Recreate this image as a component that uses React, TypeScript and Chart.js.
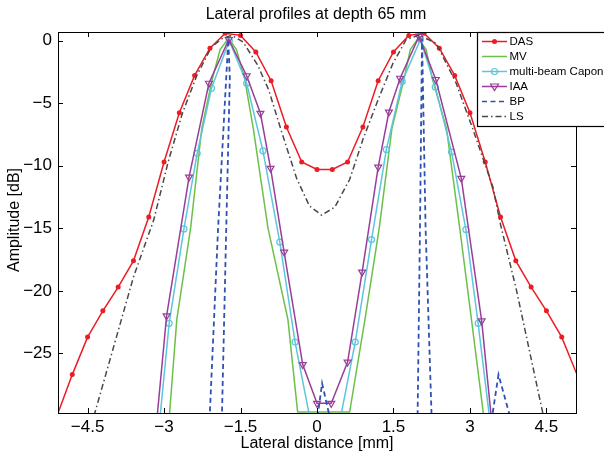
import React, { useEffect, useRef } from 'react';
import { Chart, registerables } from 'chart.js';

Chart.register(...registerables);

const FONT = '"Liberation Sans", Arial, Helvetica, sans-serif';

const X_MIN = -5.08;
const X_MAX = 5.08;
const Y_MIN = -29.77;
const Y_MAX = 0.7;

const xTicks = [-4.5, -3, -1.5, 0, 1.5, 3, 4.5];
const yTicks = [0, -5, -10, -15, -20, -25];

// DAS, sampled every 0.3 mm
const dasX = [-5.1, -4.8, -4.5, -4.2, -3.9, -3.6, -3.3, -3.0, -2.7, -2.4, -2.1, -1.8, -1.5, -1.2, -0.9, -0.6, -0.3, 0,
  0.3, 0.6, 0.9, 1.2, 1.5, 1.8, 2.1, 2.4, 2.7, 3.0, 3.3, 3.6, 3.9, 4.2, 4.5, 4.8, 5.1];
const dasY = [-30.0, -26.7, -23.7, -21.6, -19.7, -17.6, -14.1, -9.7, -5.76, -2.77, -0.6, 0.6, 0.43, -0.9, -3.2, -6.9, -9.7, -10.3,
  -10.3, -9.7, -6.9, -3.2, -0.9, 0.43, 0.6, -0.6, -2.77, -5.76, -9.7, -14.1, -17.6, -19.7, -21.6, -23.7, -26.7];

const mvX = [-2.95, -2.89, -2.75, -2.48, -2.26, -2.05, -1.9, -1.735, -1.58, -1.42, -1.25, -0.96, -0.57, -0.38,
  0.64, 0.94, 1.22, 1.47, 1.71, 1.83, 1.985, 2.14, 2.26, 2.54, 2.8, 3.03, 3.26, 3.35];
const mvY = [-33, -29.7, -22.3, -15, -7, -3, -0.7, 0.2, -0.7, -3, -7, -15, -22.3, -29.7,
  -29.7, -22.3, -15, -7, -3, -0.7, 0.2, -0.7, -3, -7, -15, -22.3, -29.7, -33];

const caponX = [-3.1, -2.9, -2.61, -2.35, -2.07, -1.72, -1.38, -1.06, -0.73, -0.43, -0.1,
  0.42, 0.75, 1.07, 1.36, 1.67, 2.03, 2.32, 2.64, 2.92, 3.16, 3.41];
const caponY = [-31, -22.6, -15.05, -9.0, -3.8, 0.0, -3.4, -8.8, -16.1, -24.1, -31,
  -31, -24.1, -15.9, -8.7, -3.25, 0.1, -3.7, -8.9, -15.1, -22.6, -31];

const iaaX = [-3.15, -2.95, -2.51, -2.12, -1.73, -1.38, -1.11, -0.91, -0.645, -0.28, 0.0,
  0.28, 0.6, 0.885, 1.2, 1.41, 1.63, 2.0, 2.33, 2.83, 3.23, 3.44];
const iaaY = [-30.7, -22.0, -10.9, -3.4, 0.1, -2.8, -5.8, -10.2, -16.9, -25.9, -29.0,
  -29.0, -25.7, -18.5, -10.1, -5.7, -3.0, 0.35, -3.1, -11.0, -22.4, -31];

const bpX = [-2.115, -1.94, -1.74, -1.71, -1.78, -1.87, -0.02, 0.1, 0.3,
  1.97, 2.02, 2.06, 2.13, 2.255, 3.4, 3.56, 3.85];
const bpY = [-31, -15, 0.1, -3, -15, -31, -31, -27.4, -31,
  -31, -15, 0.2, -15, -31, -31, -26.7, -31];

const lsX = [-4.47, -4.36, -3.6, -3.2, -2.92, -2.64, -2.36, -2.07, -1.85, -1.67, -1.45, -1.17, -0.95, -0.7, -0.4, -0.15,
  0.09, 0.35, 0.64, 0.9, 1.2, 1.49, 1.75, 2.0, 2.34, 2.73, 3.06, 3.45, 3.6, 3.91, 4.43, 4.5];
const lsY = [-31, -29.8, -18.9, -14.3, -9.7, -5.8, -2.8, -0.5, 0.2, 0.43, -0.1, -1.9, -3.9, -7.2, -11.0, -13.2,
  -13.95, -13.3, -11.1, -7.9, -4.7, -1.8, 0.1, 0.45, -0.2, -3.4, -7.1, -11.7, -14.7, -19.9, -29.8, -31];

const seriesNames = ['DAS', 'MV', 'multi-beam Capon', 'IAA', 'BP', 'LS'];
const seriesColors = ['#ec1c24', '#6cc04a', '#5cc6dc', '#9a3d9a', '#2f51b3', '#484848'];

const toPoints = (xs: number[], ys: number[]) => xs.map((x, i) => ({ x, y: ys[i] }));

const fmt = (v: number) => (v < 0 ? '\u2212' + Math.abs(v) : String(v));

// hide markers that fall outside the axes
const radiusIn = (r: number) => (c: any) => {
  const p = c.raw as { x: number; y: number } | undefined;
  if (!p) return r;
  return p.y < Y_MIN || p.x < X_MIN || p.x > X_MAX ? 0 : r;
};

function drawMarker(ctx: CanvasRenderingContext2D, kind: string, x: number, y: number, color: string) {
  ctx.save();
  ctx.strokeStyle = color;
  ctx.fillStyle = color;
  ctx.lineWidth = 1.2;
  ctx.setLineDash([]);
  if (kind === 'dot') {
    ctx.beginPath();
    ctx.arc(x, y, 2.5, 0, Math.PI * 2);
    ctx.fill();
  } else if (kind === 'circle') {
    ctx.beginPath();
    ctx.arc(x, y, 3, 0, Math.PI * 2);
    ctx.stroke();
  } else if (kind === 'tri') {
    ctx.beginPath();
    ctx.moveTo(x - 4, y - 2.5);
    ctx.lineTo(x + 4, y - 2.5);
    ctx.lineTo(x, y + 4);
    ctx.closePath();
    ctx.stroke();
  }
  ctx.restore();
}

const frame = {
  id: 'matlabFrame',
  afterDatasetsDraw(chart: any) {
    const { ctx, chartArea: a, scales } = chart;
    ctx.save();
    ctx.strokeStyle = '#000';
    ctx.lineWidth = 1;
    ctx.strokeRect(a.left + 0.5, a.top + 0.5, a.right - a.left, a.bottom - a.top);
    ctx.beginPath();
    xTicks.forEach((v) => {
      const px = Math.round(scales.x.getPixelForValue(v)) + 0.5;
      ctx.moveTo(px, a.bottom);
      ctx.lineTo(px, a.bottom - 5);
      ctx.moveTo(px, a.top);
      ctx.lineTo(px, a.top + 5);
    });
    yTicks.forEach((v) => {
      const py = Math.round(scales.y.getPixelForValue(v)) + 0.5;
      ctx.moveTo(a.left, py);
      ctx.lineTo(a.left + 5, py);
      ctx.moveTo(a.right, py);
      ctx.lineTo(a.right - 5, py);
    });
    ctx.stroke();
    ctx.restore();
  },
  afterDraw(chart: any) {
    const { ctx } = chart;
    ctx.save();
    ctx.fillStyle = '#000';
    ctx.font = `16px ${FONT}`;
    ctx.textAlign = 'center';
    ctx.textBaseline = 'alphabetic';
    ctx.fillText('Lateral profiles at depth 65 mm', 316, 19);
    ctx.fillText('Lateral distance [mm]', 317, 447.5);
    ctx.save();
    ctx.translate(19, 220);
    ctx.rotate(-Math.PI / 2);
    ctx.fillText('Amplitude [dB]', 0, 0);
    ctx.restore();

    // legend box
    ctx.fillStyle = '#fff';
    ctx.fillRect(477, 32, 140, 94);
    ctx.strokeStyle = '#000';
    ctx.lineWidth = 1.2;
    ctx.strokeRect(477.5, 32.5, 140, 94);
    const markers = ['dot', '', 'circle', 'tri', '', ''];
    const dashes = [[], [], [], [], [5, 3.5], [6, 3, 1.5, 3]];
    ctx.font = `11.5px ${FONT}`;
    ctx.textAlign = 'left';
    ctx.textBaseline = 'middle';
    seriesNames.forEach((name, i) => {
      const y = 41.5 + i * 15;
      ctx.strokeStyle = seriesColors[i];
      ctx.lineWidth = 1.5;
      ctx.setLineDash(dashes[i]);
      ctx.beginPath();
      ctx.moveTo(482, y);
      ctx.lineTo(507, y);
      ctx.stroke();
      ctx.setLineDash([]);
      if (markers[i]) drawMarker(ctx, markers[i], 494.5, y, seriesColors[i]);
      ctx.fillStyle = '#000';
      ctx.fillText(name, 509.5, y + 0.5);
    });
    ctx.restore();
  },
};

const App: React.FC = () => {
  const canvasRef = useRef<HTMLCanvasElement | null>(null);

  useEffect(() => {
    document.body.style.margin = '0';
    if (!canvasRef.current) return;
    Chart.defaults.font.family = FONT;
    const transparent = 'rgba(0,0,0,0)';
    const chart = new Chart(canvasRef.current, {
      type: 'scatter',
      data: {
        datasets: [
          {
            label: seriesNames[0],
            data: toPoints(dasX, dasY),
            showLine: true,
            borderColor: seriesColors[0],
            backgroundColor: seriesColors[0],
            borderWidth: 1.5,
            pointStyle: 'circle',
            pointRadius: radiusIn(2.5),
            pointBorderWidth: 0,
            pointBackgroundColor: seriesColors[0],
            order: 6,
          },
          {
            label: seriesNames[1],
            data: toPoints(mvX, mvY),
            showLine: true,
            borderColor: seriesColors[1],
            borderWidth: 1.5,
            pointRadius: 0,
            order: 5,
          },
          {
            label: seriesNames[2],
            data: toPoints(caponX, caponY),
            showLine: true,
            borderColor: seriesColors[2],
            borderWidth: 1.5,
            pointStyle: 'circle',
            pointRadius: radiusIn(3),
            pointBorderWidth: 1.2,
            pointBorderColor: seriesColors[2],
            pointBackgroundColor: transparent,
            order: 4,
          },
          {
            label: seriesNames[3],
            data: toPoints(iaaX, iaaY),
            showLine: true,
            borderColor: seriesColors[3],
            borderWidth: 1.5,
            pointStyle: 'triangle',
            rotation: 180,
            pointRadius: radiusIn(4),
            pointBorderWidth: 1.2,
            pointBorderColor: seriesColors[3],
            pointBackgroundColor: transparent,
            order: 3,
          },
          {
            label: seriesNames[4],
            data: toPoints(bpX, bpY),
            showLine: true,
            borderColor: seriesColors[4],
            borderWidth: 1.8,
            borderDash: [5, 3.5],
            pointRadius: 0,
            order: 2,
          },
          {
            label: seriesNames[5],
            data: toPoints(lsX, lsY),
            showLine: true,
            borderColor: seriesColors[5],
            borderWidth: 1.5,
            borderDash: [6, 3, 1.5, 3],
            pointRadius: 0,
            order: 1,
          },
        ],
      },
      options: {
        responsive: true,
        maintainAspectRatio: false,
        animation: false,
        events: [],
        layout: { padding: { top: 32, right: 28, left: 0, bottom: 0 } },
        plugins: {
          legend: { display: false },
          tooltip: { enabled: false },
          title: { display: false },
        },
        scales: {
          x: {
            type: 'linear',
            min: X_MIN,
            max: X_MAX,
            afterBuildTicks: (s: any) => {
              s.ticks = xTicks.map((value) => ({ value }));
            },
            afterFit: (s: any) => {
              s.height = 41;
            },
            grid: { display: false, drawTicks: false },
            border: { display: false },
            ticks: {
              autoSkip: false,
              maxRotation: 0,
              padding: 4,
              color: '#000',
              font: { size: 17, family: FONT },
              callback: (v: any) => fmt(Number(v)),
            },
          },
          y: {
            type: 'linear',
            min: Y_MIN,
            max: Y_MAX,
            afterBuildTicks: (s: any) => {
              s.ticks = yTicks.map((value) => ({ value }));
            },
            afterFit: (s: any) => {
              s.width = 58;
            },
            grid: { display: false, drawTicks: false },
            border: { display: false },
            ticks: {
              autoSkip: false,
              padding: 6,
              color: '#000',
              font: { size: 17, family: FONT },
              callback: (v: any) => fmt(Number(v)),
            },
          },
        },
      },
      plugins: [frame],
    });
    return () => chart.destroy();
  }, []);

  return (
    <div style={{ position: 'relative', width: 604, height: 454, background: '#fff' }}>
      <canvas ref={canvasRef}></canvas>
    </div>
  );
};

export default App;
